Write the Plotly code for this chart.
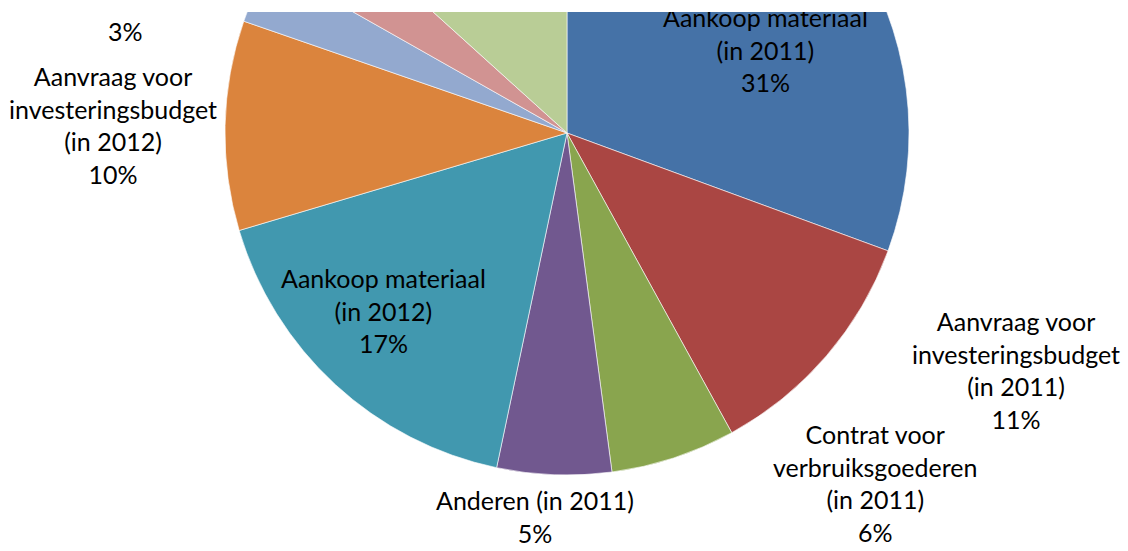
import plotly.graph_objects as go

# ---- data ----
categories = [
    "Aankoop materiaal<br>(in 2011)",
    "Aanvraag voor<br>investeringsbudget<br>(in 2011)",
    "Contrat voor<br>verbruiksgoederen<br>(in 2011)",
    "Anderen (in 2011)",
    "Aankoop materiaal<br>(in 2012)",
    "Aanvraag voor<br>investeringsbudget<br>(in 2012)",
    "Contrat voor<br>verbruiksgoederen<br>(in 2012)",
    "Anderen (in 2012)",
    "Andere aankopen<br>(in 2012)",
]
values = [30.6, 11.4, 5.9, 5.4, 17.1, 9.9, 2.9, 3.5, 13.3]
colors = ["#4572A7", "#AA4643", "#89A54E", "#71588F", "#4198AF",
          "#DB843D", "#93A9CF", "#D19392", "#B9CD96"]

# label block centres in visible-page pixels (x, y)
label_pos = [(765, 50), (1016, 370), (875, 483), (535, 516), (383, 310),
             (113, 125), (125, -18), (230, -140), (420, -260)]

# ---- layout geometry ----
W, VIS_H = 1128, 551
T = 300                      # hidden part above the visible window
H = VIS_H + T
CLIP_TOP = 12                # white strip at top of the picture
CX, CY, R = 567, 133, 342    # pie centre / radius in visible pixels

def px_to_paper(px, py):
    return px / W, 1 - (py + T) / H

fig = go.Figure(go.Pie(
    labels=categories,
    values=values,
    sort=False,
    direction="clockwise",
    rotation=0,
    marker=dict(colors=colors, line=dict(color="white", width=0.6)),
    textinfo="none",
    hoverinfo="label+percent",
    domain=dict(x=[(CX - R) / W, (CX + R) / W],
                y=[1 - (CY + T + R) / H, 1 - (CY + T - R) / H]),
))

total = sum(values)
for cat, v, (px, py) in zip(categories, values, label_pos):
    x, y = px_to_paper(px, py)
    fig.add_annotation(
        x=x, y=y, xref="paper", yref="paper",
        text=f"{cat}<br>{round(v / total * 100)}%",
        showarrow=False, xanchor="center", yanchor="middle", align="center",
        font=dict(family="Lato", size=25, color="#000000"),
    )

fig.update_layout(
    width=W, height=H, autosize=False,
    margin=dict(l=0, r=0, t=0, b=0, pad=0),
    paper_bgcolor="white", plot_bgcolor="white",
    showlegend=False,
)

post = """
var gd = document.getElementById('{plot_id}');
document.documentElement.style.overflow = 'hidden';
document.body.style.margin = '0';
document.body.style.overflow = 'hidden';
var wrap = gd.parentElement;
wrap.style.position = 'absolute';
wrap.style.left = '0px';
wrap.style.top = '%dpx';
wrap.style.width = '%dpx';
wrap.style.height = '%dpx';
wrap.style.overflow = 'hidden';
gd.style.marginTop = '-%dpx';
""" % (CLIP_TOP, W, VIS_H - CLIP_TOP, T + CLIP_TOP)

fig.write_html("out.html", config={"displayModeBar": False}, post_script=post)
